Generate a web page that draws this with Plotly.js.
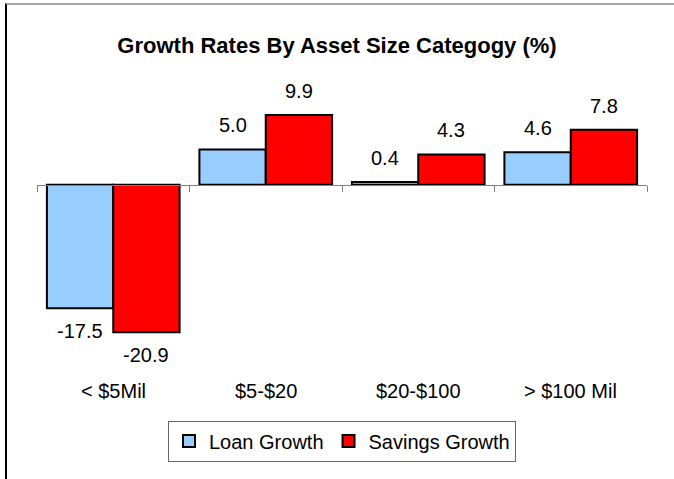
<!DOCTYPE html>
<html>
<head>
<meta charset="utf-8">
<script src="https://cdn.plot.ly/plotly-3.0.1.min.js"></script>
<style>
  html, body { margin: 0; padding: 0; background: #fff; }
  #chart { width: 674px; height: 479px; position: absolute; left: 0; top: 0; }
  #frame { position: absolute; left: 5px; top: 3px; width: 669px; height: 476px;
           border-left: 2px solid #000; border-top: 2px solid #a6a6a6; pointer-events: none; box-sizing: border-box; }
</style>
</head>
<body>
<div id="chart"></div>
<div id="frame"></div>
<script>
const chartTitle = 'Growth Rates By Asset Size Categogy (%)';
const categories = ['< $5Mil', '$5-$20', '$20-$100', '> $100 Mil'];
const seriesNames = ['Loan Growth', 'Savings Growth'];
const loanGrowth = [-17.5, 5.0, 0.4, 4.6];
const savingsGrowth = [-20.9, 9.9, 4.3, 7.8];

const colors = ['#99CCFF', '#FF0000'];
const fontFamily = 'Liberation Sans, Arial, sans-serif';
const bargap = 0.13;
const yRange = [-24, 14];

const series = [loanGrowth, savingsGrowth];
const traces = series.map((vals, k) => ({
  type: 'bar',
  name: seriesNames[k],
  x: categories,
  y: vals,
  marker: { color: colors[k], line: { color: '#000', width: 2 } },
  hoverinfo: 'x+y+name'
}));

const half = (1 - bargap) / 4;
const annotations = [];
series.forEach((vals, k) => {
  vals.forEach((v, i) => {
    annotations.push({
      xref: 'x', yref: 'y',
      x: i + (k === 0 ? -half : half),
      y: v,
      text: v.toFixed(1),
      showarrow: false,
      yanchor: 'middle',
      yshift: v >= 0 ? 24 : -23,
      font: { family: fontFamily, size: 20, color: '#000' }
    });
  });
});
categories.forEach((c, i) => {
  annotations.push({
    xref: 'x', yref: 'paper',
    x: i, y: 0,
    yshift: -37,
    yanchor: 'middle',
    text: c.replace(/</g, '&lt;').replace(/>/g, '&gt;'),
    showarrow: false,
    font: { family: fontFamily, size: 20, color: '#000' }
  });
});

const zeroPos = (0 - yRange[0]) / (yRange[1] - yRange[0]);

const layout = {
  width: 674, height: 479,
  margin: { l: 37, r: 27, t: 86, b: 125, pad: 0 },
  paper_bgcolor: '#fff', plot_bgcolor: '#fff',
  title: {
    text: '<b>' + chartTitle + '</b>',
    xref: 'container', x: 0.5, xanchor: 'center',
    yref: 'container', y: 1 - 45 / 479, yanchor: 'middle',
    font: { family: fontFamily, size: 22, color: '#000' }
  },
  barmode: 'group',
  bargap: bargap,
  bargroupgap: 0,
  xaxis: {
    type: 'category',
    anchor: 'free', position: zeroPos,
    showline: true, linecolor: '#808080', linewidth: 1,
    ticks: 'outside', tickson: 'boundaries', ticklen: 6, tickcolor: '#808080', tickwidth: 1,
    showticklabels: false, showgrid: false, zeroline: false,
    fixedrange: true
  },
  yaxis: {
    range: yRange, visible: false, fixedrange: true
  },
  showlegend: true,
  legend: {
    orientation: 'h',
    x: 0.5, xanchor: 'center',
    y: -(441 - 354) / 268, yanchor: 'middle',
    font: { family: fontFamily, size: 20, color: '#000' },
    bgcolor: '#fff', bordercolor: '#666', borderwidth: 1,
    itemwidth: 30, traceorder: 'normal'
  },
  annotations: annotations
};

Plotly.newPlot('chart', traces, layout, { displayModeBar: false, staticPlot: true });
</script>
</body>
</html>
